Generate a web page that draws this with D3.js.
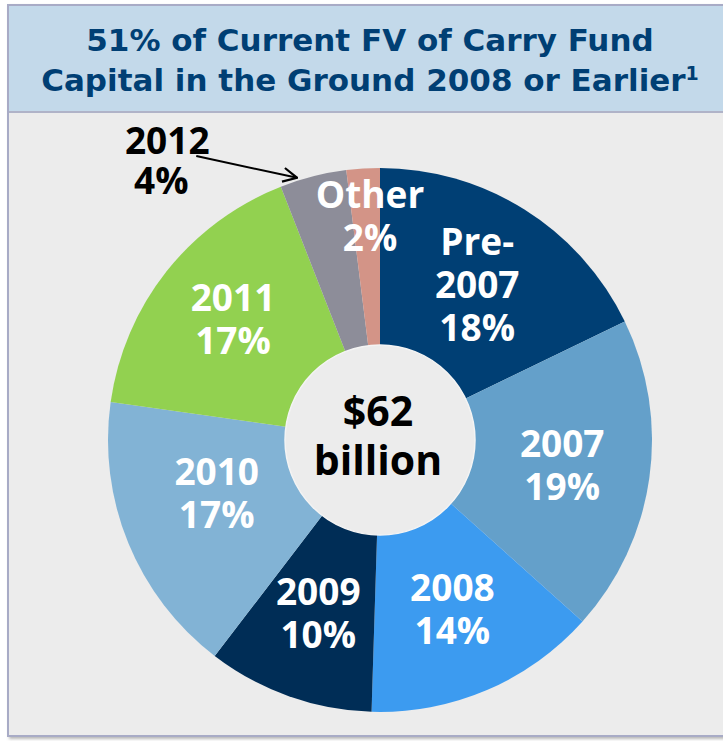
<!DOCTYPE html>
<html>
<head>
<meta charset="utf-8">
<script src="https://cdn.jsdelivr.net/npm/d3@7"></script>
<style>
  html, body { margin: 0; padding: 0; background: #fff; }
  svg { display: block; }
</style>
</head>
<body>
<div id="chart"></div>
<script>
const categories = ["Pre-2007", "2007", "2008", "2009", "2010", "2011", "2012", "Other"];
const labelLines = [["Pre-", "2007"], ["2007"], ["2008"], ["2009"], ["2010"], ["2011"], ["2012"], ["Other"]];
const shares = [18, 19, 14, 10, 17, 17, 4, 2];
const colors = ["#003f74", "#64a0ca", "#3c9bf0", "#002d56", "#82b3d5", "#92d150", "#8d8d99", "#d39487"];
const titleLines = ["51% of Current FV of Carry Fund", "Capital in the Ground 2008 or Earlier"];
const centerLines = ["$62", "billion"];

const width = 723;
const height = 741;
const cx = 380;
const cy = 440;
const outerRadius = 272;
const innerRadius = 95;

// label placement tweaks (radius in px, angle shift in degrees) to follow the original
const labelTweak = {
  "Pre-2007": { r: 183 },
  "2010": { r: 172, a: 4 },
  "2011": { r: 190, a: 1 },
  "Other": { r: 224, a: 1 },
};
const defaultLabelRadius = 184;
const calloutCategory = "2012";

const svg = d3.select("#chart").append("svg")
  .attr("width", width)
  .attr("height", height);

const defs = svg.append("defs");
defs.append("filter")
  .attr("id", "shadow")
  .attr("x", "-5%").attr("y", "-5%").attr("width", "110%").attr("height", "110%")
  .append("feDropShadow")
  .attr("dx", 2).attr("dy", 2).attr("stdDeviation", 1.5)
  .attr("flood-color", "#888").attr("flood-opacity", 0.6);

defs.append("marker")
  .attr("id", "arrow")
  .attr("viewBox", "0 0 16 16")
  .attr("refX", 15).attr("refY", 8)
  .attr("markerWidth", 16).attr("markerHeight", 16)
  .attr("markerUnits", "userSpaceOnUse")
  .attr("orient", "auto")
  .append("path")
  .attr("d", "M1,1 L15,8 L1,15")
  .attr("fill", "none")
  .attr("stroke", "#000")
  .attr("stroke-width", 2.2);

// panel
svg.append("rect")
  .attr("x", 8).attr("y", 5)
  .attr("width", width + 10).attr("height", 731)
  .attr("fill", "#ececec")
  .attr("stroke", "#a8abc6")
  .attr("stroke-width", 2)
  .attr("filter", "url(#shadow)");

svg.append("rect")
  .attr("x", 9).attr("y", 6)
  .attr("width", width).attr("height", 106)
  .attr("fill", "#c3d9ea");

svg.append("line")
  .attr("x1", 9).attr("x2", width)
  .attr("y1", 112).attr("y2", 112)
  .attr("stroke", "#b0b3c8")
  .attr("stroke-width", 2);

const title = svg.append("text")
  .attr("text-anchor", "middle")
  .attr("fill", "#003f74")
  .attr("font-family", "'DejaVu Sans', sans-serif")
  .attr("font-weight", "bold")
  .attr("font-size", 31);

title.selectAll("tspan")
  .data(titleLines)
  .join("tspan")
  .attr("x", 370)
  .attr("y", (d, i) => 51 + i * 40)
  .text(d => d);

title.select("tspan:last-child")
  .append("tspan")
  .attr("font-size", 19)
  .attr("dy", -11)
  .text("1");

// donut
const pie = d3.pie()
  .value(d => d.share)
  .sort(null);

const data = categories.map((c, i) => ({
  category: c,
  lines: labelLines[i],
  share: shares[i],
  color: colors[i],
}));

const arcs = pie(data);

const arc = d3.arc()
  .innerRadius(0)
  .outerRadius(outerRadius);

const g = svg.append("g")
  .attr("transform", `translate(${cx},${cy})`);

g.selectAll(".slice")
  .data(arcs)
  .join("path")
  .attr("class", "slice")
  .attr("fill", d => d.data.color)
  .attr("d", arc);

g.append("circle")
  .attr("r", innerRadius)
  .attr("fill", "#ececec")
  .attr("stroke", "#f4f4f4")
  .attr("stroke-width", 1.5);

const labelFont = "'Open Sans', 'Noto Sans', sans-serif";
const lineHeight = 43;

function pointAt(angle, r) {
  return [Math.sin(angle) * r, -Math.cos(angle) * r];
}

g.selectAll(".label")
  .data(arcs.filter(d => d.data.category !== calloutCategory))
  .join("text")
  .attr("class", "label")
  .attr("text-anchor", "middle")
  .attr("fill", "#fff")
  .attr("font-family", labelFont)
  .attr("font-weight", "bold")
  .attr("font-size", 37)
  .each(function (d) {
    const tweak = labelTweak[d.data.category] || {};
    const r = tweak.r || defaultLabelRadius;
    const mid = (d.startAngle + d.endAngle) / 2 + ((tweak.a || 0) * Math.PI) / 180;
    const [x, y] = pointAt(mid, r);
    const lines = d.data.lines.concat([`${d.data.share}%`]);
    const top = y - ((lines.length - 1) * lineHeight) / 2 + 13;
    d3.select(this).selectAll("tspan")
      .data(lines)
      .join("tspan")
      .attr("x", x)
      .attr("y", (e, i) => top + i * lineHeight)
      .text(e => e);
  });

// callout for the thin slice
const callout = arcs.find(d => d.data.category === calloutCategory);
const tipAngle = callout.startAngle + (callout.endAngle - callout.startAngle) * 0.27;
const tip = pointAt(tipAngle, outerRadius + 3);
const labelPos = pointAt(callout.startAngle - 0.28, 350);

g.append("line")
  .attr("x1", labelPos[0] + 29)
  .attr("y1", labelPos[1] - 6)
  .attr("x2", tip[0])
  .attr("y2", tip[1])
  .attr("stroke", "#000")
  .attr("stroke-width", 2)
  .attr("marker-end", "url(#arrow)");

g.append("text")
  .attr("text-anchor", "middle")
  .attr("fill", "#000")
  .attr("font-family", labelFont)
  .attr("font-weight", "bold")
  .attr("font-size", 37)
  .selectAll("tspan")
  .data([callout.data.category, `${callout.data.share}%`])
  .join("tspan")
  .attr("x", (d, i) => labelPos[0] - i * 6)
  .attr("y", (d, i) => labelPos[1] - 8 + i * 40)
  .text(d => d);

g.append("text")
  .attr("text-anchor", "middle")
  .attr("fill", "#000")
  .attr("font-family", labelFont)
  .attr("font-weight", "bold")
  .attr("font-size", 41)
  .selectAll("tspan")
  .data(centerLines)
  .join("tspan")
  .attr("x", -2)
  .attr("y", (d, i) => -14 + i * 49)
  .text(d => d);
</script>
</body>
</html>
